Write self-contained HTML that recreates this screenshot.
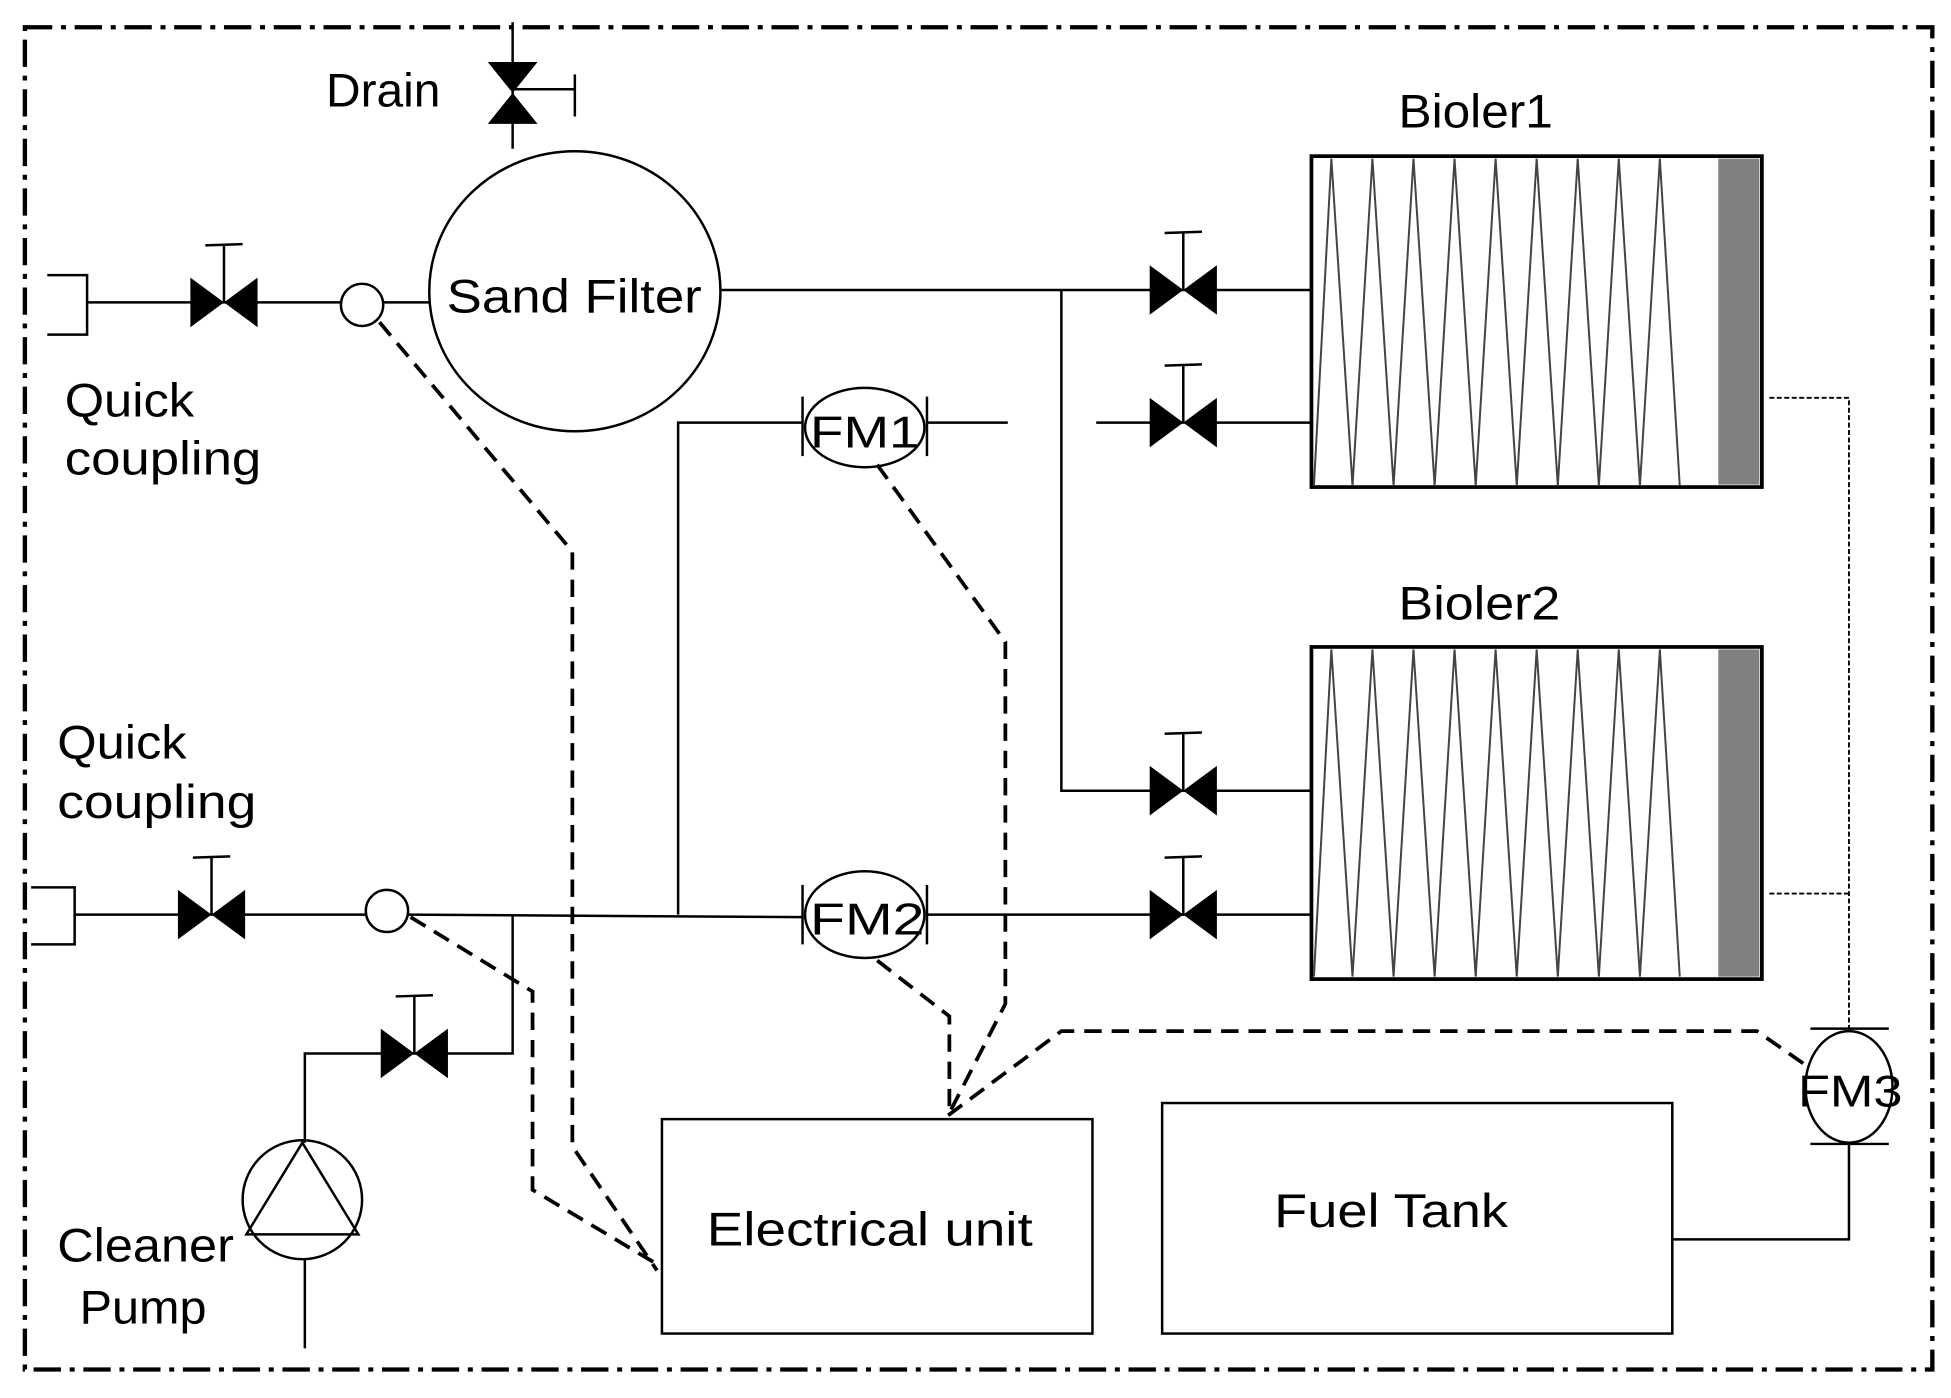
<!DOCTYPE html>
<html><head><meta charset="utf-8"><style>html,body{margin:0;padding:0;background:#fff}svg{display:block}</style></head>
<body>
<svg width="1951" height="1398" viewBox="0 0 1568 1128" preserveAspectRatio="none" xmlns="http://www.w3.org/2000/svg" font-family="Liberation Sans, sans-serif" font-size="38">
<defs>
<g id="v"><path d="M-27,-20 L27,20 L27,-20 L-27,20 Z" fill="#000"/><line x1="0" y1="0" x2="0" y2="-46" stroke="#000" stroke-width="2"/><line x1="-15" y1="-46" x2="15" y2="-47" stroke="#000" stroke-width="2"/></g>
</defs>
<rect x="20" y="22" width="1533" height="1083" fill="none" stroke="#000" stroke-width="3.5" stroke-dasharray="22,7,4,7"/>
<g stroke="#000" stroke-width="2" fill="none">
<!-- drain -->
<line x1="412" y1="18" x2="412" y2="120"/>
<line x1="412" y1="72" x2="462" y2="72"/><line x1="462" y1="60" x2="462" y2="94"/>
<ellipse cx="462" cy="235" rx="117" ry="113"/>
<!-- top row -->
<path d="M38,222 H70 V270 H38"/>
<line x1="70" y1="244" x2="275" y2="244"/>
<circle cx="291" cy="246" r="17"/>
<line x1="308" y1="244" x2="345" y2="244"/>
<line x1="580" y1="234" x2="1054" y2="234"/>
<path d="M853,234 V638 H1054"/>
<line x1="881" y1="341" x2="1054" y2="341"/>
<!-- FM1 -->
<path d="M545,738 V341 H645"/><line x1="745" y1="341" x2="810" y2="341"/>
<ellipse cx="695" cy="345" rx="48" ry="32"/>
<line x1="645" y1="320" x2="645" y2="368"/><line x1="745" y1="320" x2="745" y2="368"/>
<!-- bottom row -->
<path d="M25,716 H60 V762 H25"/>
<line x1="60" y1="738" x2="295" y2="738"/>
<circle cx="311" cy="735" r="17"/>
<line x1="328" y1="738" x2="645" y2="740"/>
<ellipse cx="695" cy="738" rx="48" ry="35"/>
<line x1="645" y1="714" x2="645" y2="762"/><line x1="745" y1="714" x2="745" y2="762"/>
<line x1="745" y1="738" x2="1054" y2="738"/>
<!-- pump branch -->
<path d="M412,738 V850 H245 V922"/>
<circle cx="243" cy="968" r="48"/>
<path d="M243,922 L198,996 L288,996 Z"/>
<line x1="245" y1="1016" x2="245" y2="1088"/>
<!-- boilers -->
<rect x="1054" y="126" width="362" height="267" stroke-width="3"/>
<rect x="1054" y="522" width="362" height="268" stroke-width="3"/>
<!-- FM3 -->
<ellipse cx="1486" cy="877" rx="35" ry="45"/>
<line x1="1455" y1="830" x2="1518" y2="830"/><line x1="1455" y1="923" x2="1518" y2="923"/>
<path d="M1486,923 V1000 H1345"/>
<rect x="532" y="903" width="346" height="173"/>
<rect x="934" y="890" width="410" height="186"/>
</g>
<rect x="1381" y="128" width="33" height="263" fill="#808080"/>
<rect x="1381" y="524" width="33" height="264" fill="#808080"/>
<g fill="none" stroke="#444" stroke-width="1.6">
<polyline points="1056,392 1070,128 1087,392 1103,128 1120,392 1136,128 1153,392 1169,128 1186,392 1202,128 1219,392 1235,128 1252,392 1268,128 1285,392 1301,128 1318,392 1334,128 1350,392"/>
<polyline points="1056,788 1070,524 1087,788 1103,524 1120,788 1136,524 1153,788 1169,524 1186,788 1202,524 1219,788 1235,524 1252,788 1268,524 1285,788 1301,524 1318,788 1334,524 1350,788"/>
</g>
<g stroke="#000" stroke-width="1.5" stroke-dasharray="4,2" fill="none">
<path d="M1422,321 H1486 V830"/><path d="M1422,721 H1486"/>
</g>
<!-- valves -->
<use href="#v" x="180" y="244"/>
<use href="#v" x="951" y="234"/>
<use href="#v" x="951" y="341"/>
<use href="#v" x="951" y="638"/>
<use href="#v" x="951" y="738"/>
<use href="#v" x="170" y="738"/>
<use href="#v" x="333" y="850"/>
<path d="M392,50 L432,50 L392,100 L432,100 Z" fill="#000"/>
<!-- dashed signal lines -->
<g stroke="#000" stroke-width="3" stroke-dasharray="14,8" fill="none">
<polyline points="305,260 460,445 460,925 528,1025"/>
<polyline points="330,740 428,800 428,960 528,1020"/>
<polyline points="705,375 808,518 808,810 762,900"/>
<polyline points="705,775 763,820 763,900"/>
<polyline points="762,900 853,832 1412,832 1455,862"/>
</g>
<g fill="#000">
<text x="262" y="86" textLength="92" lengthAdjust="spacingAndGlyphs">Drain</text>
<text x="359" y="252" textLength="205" lengthAdjust="spacingAndGlyphs">Sand Filter</text>
<text x="52" y="336" textLength="104" lengthAdjust="spacingAndGlyphs">Quick</text>
<text x="52" y="383" textLength="158" lengthAdjust="spacingAndGlyphs">coupling</text>
<text x="46" y="612" textLength="104" lengthAdjust="spacingAndGlyphs">Quick</text>
<text x="46" y="660" textLength="160" lengthAdjust="spacingAndGlyphs">coupling</text>
<text x="46" y="1018" textLength="142" lengthAdjust="spacingAndGlyphs">Cleaner</text>
<text x="64" y="1068" textLength="102" lengthAdjust="spacingAndGlyphs">Pump</text>
<text x="1124" y="103" textLength="124" lengthAdjust="spacingAndGlyphs">Bioler1</text>
<text x="1124" y="500" textLength="130" lengthAdjust="spacingAndGlyphs">Bioler2</text>
<text x="651" y="361" font-size="36" textLength="88" lengthAdjust="spacingAndGlyphs">FM1</text>
<text x="651" y="754" font-size="36" textLength="92" lengthAdjust="spacingAndGlyphs">FM2</text>
<text x="1445" y="893" font-size="36" textLength="84" lengthAdjust="spacingAndGlyphs">FM3</text>
<text x="568" y="1005" textLength="262" lengthAdjust="spacingAndGlyphs">Electrical  unit</text>
<text x="1024" y="990" textLength="188" lengthAdjust="spacingAndGlyphs">Fuel  Tank</text>
</g>
</svg>
</body></html>
